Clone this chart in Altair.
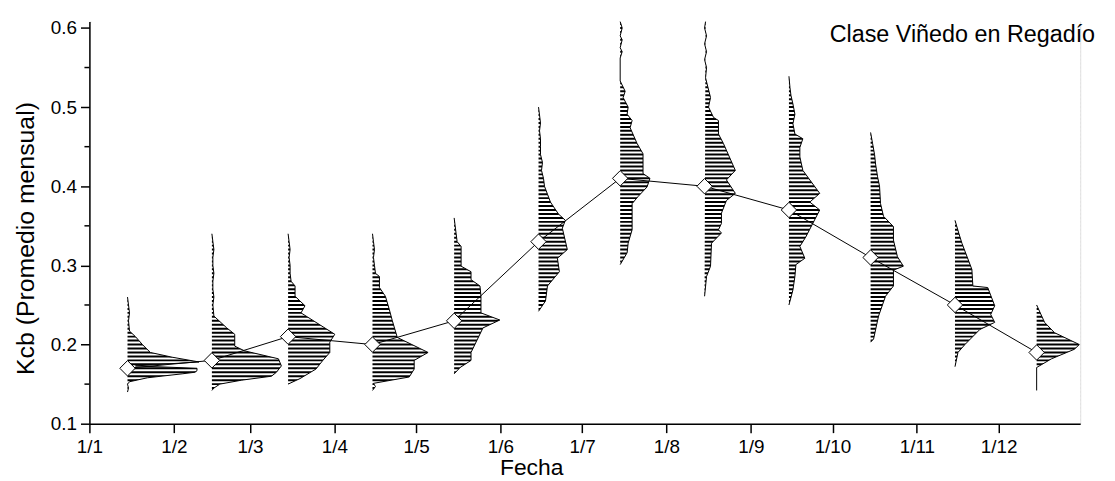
import altair as alt
import pandas as pd
import numpy as np

# ---------------- data ----------------
MONTH_LABELS = ["1/1", "1/2", "1/3", "1/4", "1/5", "1/6",
                "1/7", "1/8", "1/9", "1/10", "1/11", "1/12"]
MONTH_START = [0, 31, 59, 90, 120, 151, 181, 212, 243, 273, 304, 334]  # day of year
MID_OFFSET = 14  # distributions placed on the 15th of each month
KCB_MEAN = [0.17, 0.18, 0.21, 0.20, 0.23, 0.33, 0.41, 0.40, 0.37, 0.31, 0.25, 0.19]

# distribution profiles: (Kcb, relative frequency)
ENE = [(0.14, 0), (0.145, 1), (0.15, 0), (0.153, 2), (0.158, 20), (0.163, 55), (0.165, 68),
       (0.167, 70), (0.17, 70), (0.173, 8), (0.178, 72), (0.184, 45), (0.19, 23), (0.20, 15),
       (0.21, 8), (0.217, 2), (0.23, 1), (0.24, 2), (0.25, 1), (0.26, 0)]
FEB = [(0.142, 0), (0.145, 2), (0.15, 8), (0.155, 30), (0.16, 60), (0.165, 65), (0.173, 70),
       (0.182, 67), (0.192, 33), (0.198, 23), (0.213, 23), (0.221, 15), (0.236, 2), (0.25, 1),
       (0.26, 2), (0.27, 1), (0.28, 1), (0.29, 2), (0.30, 1), (0.31, 1), (0.32, 2), (0.33, 1),
       (0.34, 0)]
MAR = [(0.15, 0), (0.157, 12), (0.169, 28), (0.18, 35), (0.19, 42), (0.203, 42), (0.213, 47),
       (0.24, 13), (0.249, 17), (0.261, 7), (0.274, 7), (0.28, 3), (0.29, 2), (0.30, 2),
       (0.31, 1), (0.32, 2), (0.33, 1), (0.34, 0)]
ABR = [(0.142, 0), (0.147, 3), (0.151, 1), (0.159, 37), (0.169, 42), (0.18, 42), (0.19, 56),
       (0.209, 25), (0.23, 20), (0.244, 17), (0.261, 13), (0.272, 7), (0.286, 7), (0.29, 3),
       (0.30, 2), (0.31, 1), (0.32, 2), (0.33, 1), (0.34, 0)]
MAY = [(0.163, 0), (0.171, 6), (0.18, 17), (0.19, 17), (0.221, 29), (0.231, 46), (0.24, 27),
       (0.261, 27), (0.274, 26), (0.282, 17), (0.292, 17), (0.299, 7), (0.324, 7), (0.33, 3),
       (0.34, 2), (0.35, 1), (0.36, 0)]
JUN = [(0.242, 0), (0.255, 7), (0.274, 9), (0.292, 21), (0.309, 19), (0.32, 29), (0.347, 24),
       (0.357, 27), (0.365, 20), (0.38, 12), (0.39, 9), (0.40, 6), (0.41, 5), (0.42, 3),
       (0.43, 4), (0.44, 2), (0.45, 2), (0.46, 2), (0.47, 1), (0.48, 2), (0.49, 1), (0.50, 0)]
JUL = [(0.301, 0), (0.316, 7), (0.328, 8), (0.345, 12), (0.378, 12), (0.387, 18), (0.399, 27),
       (0.41, 30), (0.416, 23), (0.441, 23), (0.454, 17), (0.474, 10), (0.483, 12), (0.491, 7),
       (0.50, 8), (0.512, 3), (0.52, 5), (0.533, 0), (0.562, 0), (0.57, 2), (0.575, 0),
       (0.585, 2), (0.59, 0), (0.60, 2), (0.608, 0)]
AGO = [(0.261, 0), (0.286, 2), (0.299, 6), (0.328, 7), (0.341, 17), (0.345, 14), (0.353, 17),
       (0.366, 17), (0.382, 22), (0.391, 31), (0.408, 22), (0.42, 31), (0.454, 19), (0.466, 14),
       (0.483, 14), (0.487, 9), (0.50, 4), (0.512, 6), (0.537, 1), (0.55, 2), (0.56, 0),
       (0.57, 2), (0.58, 0), (0.59, 2), (0.60, 0), (0.608, 1)]
SEP = [(0.25, 0), (0.269, 4), (0.286, 6), (0.301, 7), (0.309, 16), (0.324, 11), (0.336, 17),
       (0.37, 31), (0.38, 21), (0.391, 31), (0.42, 14), (0.437, 11), (0.449, 11), (0.46, 14),
       (0.466, 6), (0.479, 4), (0.491, 6), (0.504, 4), (0.515, 2), (0.525, 1), (0.539, 0)]
OCT = [(0.203, 0), (0.207, 3), (0.236, 8), (0.261, 15), (0.274, 23), (0.294, 23), (0.299, 33),
       (0.311, 27), (0.332, 23), (0.349, 23), (0.362, 13), (0.378, 10), (0.40, 9), (0.412, 7),
       (0.428, 5), (0.44, 4), (0.454, 2), (0.468, 0)]
NOV = [(0.172, 0), (0.19, 3), (0.20, 10), (0.219, 25), (0.228, 40), (0.238, 36), (0.249, 40),
       (0.272, 33), (0.274, 18), (0.295, 17), (0.328, 7), (0.34, 4), (0.357, 0)]
DIC = [(0.142, 0), (0.171, 0), (0.182, 15), (0.194, 38), (0.20, 43), (0.215, 18), (0.228, 8),
       (0.25, 0)]

PROFILES = [ENE, FEB, MAR, ABR, MAY, JUN, JUL, AGO, SEP, OCT, NOV, DIC]

Y_TICKS = [0.1, 0.2, 0.3, 0.4, 0.5, 0.6]
Y_MINOR = [0.15, 0.25, 0.35, 0.45, 0.55]
TITLE_TEXT = "Clase Viñedo en Regadío"

# ---------------- layout / style ----------------
W, H = 998, 405
X_DOMAIN = [0, 364]
Y_DOMAIN = [0.1, 0.608]
DAYS_PER_UNIT = (X_DOMAIN[1] - X_DOMAIN[0]) / W   # frequency unit -> days
FONT = "Liberation Sans"

rows = []
for lab, start, prof in zip(MONTH_LABELS, MONTH_START, PROFILES):
    base = start + MID_OFFSET
    for k, f in prof:
        rows.append({"mes": lab, "kcb": k, "xedge": base + f * DAYS_PER_UNIT})
dist = pd.DataFrame(rows)

means = pd.DataFrame({
    "mes": MONTH_LABELS,
    "dia": [s + MID_OFFSET for s in MONTH_START],
    "kcb": KCB_MEAN,
})

stripes = pd.DataFrame({"kcb": np.arange(0.1025, 0.612, 0.005)})
minor = pd.DataFrame({"kcb": Y_MINOR})

label_expr = "[" + ",".join(f"'{l}'" for l in MONTH_LABELS) + "][indexof([" + \
    ",".join(str(s) for s in MONTH_START) + "], datum.value)]"

xscale = alt.Scale(domain=X_DOMAIN, nice=False, zero=False)
yscale = alt.Scale(domain=Y_DOMAIN, nice=False, zero=False)

x_axis = alt.Axis(values=MONTH_START, labelExpr=label_expr, title="Fecha", grid=False,
                  tickSize=9, tickWidth=1.5, domainWidth=1.5, domainColor="black",
                  tickColor="black", labelColor="black", labelFont=FONT, labelFontSize=19,
                  labelPadding=5, titleFont=FONT, titleFontSize=23, titleFontWeight="normal",
                  titleColor="black", titleX=445, titleY=51, titleAnchor="start",
                  titleAlign="center", titleBaseline="alphabetic", labelFlush=False)
y_axis = alt.Axis(values=Y_TICKS, format=".1f", title="Kcb (Promedio mensual)", grid=False,
                  tickSize=9, tickWidth=1.5, domainWidth=1.5, domainColor="black",
                  tickColor="black", labelColor="black", labelFont=FONT, labelFontSize=19,
                  labelPadding=4, titleFont=FONT, titleFontSize=25, titleFontWeight="normal",
                  titleColor="black", titleX=-56, titleY=218, titleAngle=270,
                  titleAlign="center", titleBaseline="alphabetic", labelFlush=False)

# filled distribution shapes (closed along the base line)
fill = alt.Chart(dist).mark_line(filled=True, color="black", fill="black", strokeWidth=0).encode(
    y=alt.Y("kcb:Q", scale=yscale, axis=y_axis),
    x=alt.X("xedge:Q", scale=xscale, axis=x_axis),
    detail="mes:N",
    order=alt.Order("kcb:Q"),
)

# horizontal hatching of the fill
hatch = alt.Chart(stripes).mark_rule(color="white", strokeWidth=2.0).encode(
    y=alt.Y("kcb:Q", scale=yscale),
    x=alt.value(2),
    x2=alt.value(W),
)

outline = alt.Chart(dist).mark_line(color="black", strokeWidth=1).encode(
    y=alt.Y("kcb:Q", scale=yscale),
    x=alt.X("xedge:Q", scale=xscale),
    detail="mes:N",
    order=alt.Order("kcb:Q"),
)

mean_line = alt.Chart(means).mark_line(color="black", strokeWidth=1).encode(
    x=alt.X("dia:Q", scale=xscale),
    y=alt.Y("kcb:Q", scale=yscale),
    order=alt.Order("dia:Q"),
)

diamonds = alt.Chart(means).mark_point(shape="diamond", filled=True, fill="white",
                                       stroke="black", strokeWidth=1, size=240,
                                       opacity=1).encode(
    x=alt.X("dia:Q", scale=xscale),
    y=alt.Y("kcb:Q", scale=yscale),
)

minor_ticks = alt.Chart(minor).mark_rule(color="black", strokeWidth=1.5).encode(
    y=alt.Y("kcb:Q", scale=yscale),
    x=alt.value(-5),
    x2=alt.value(0),
)

label = alt.Chart(pd.DataFrame({"t": [TITLE_TEXT]})).mark_text(
    align="right", baseline="alphabetic", font=FONT, fontSize=23.5, color="black"
).encode(text="t:N", x=alt.value(1013), y=alt.value(21))

chart = alt.layer(fill, hatch, outline, mean_line, diamonds, minor_ticks, label).properties(
    width=W, height=H,
    autosize=alt.AutoSizeParams(type="none"),
    padding={"left": 82, "top": 12, "right": 27, "bottom": 56},
).configure_view(stroke=None).configure(background="white")

chart.save("out.html", embed_options={"renderer": "svg", "actions": False})
